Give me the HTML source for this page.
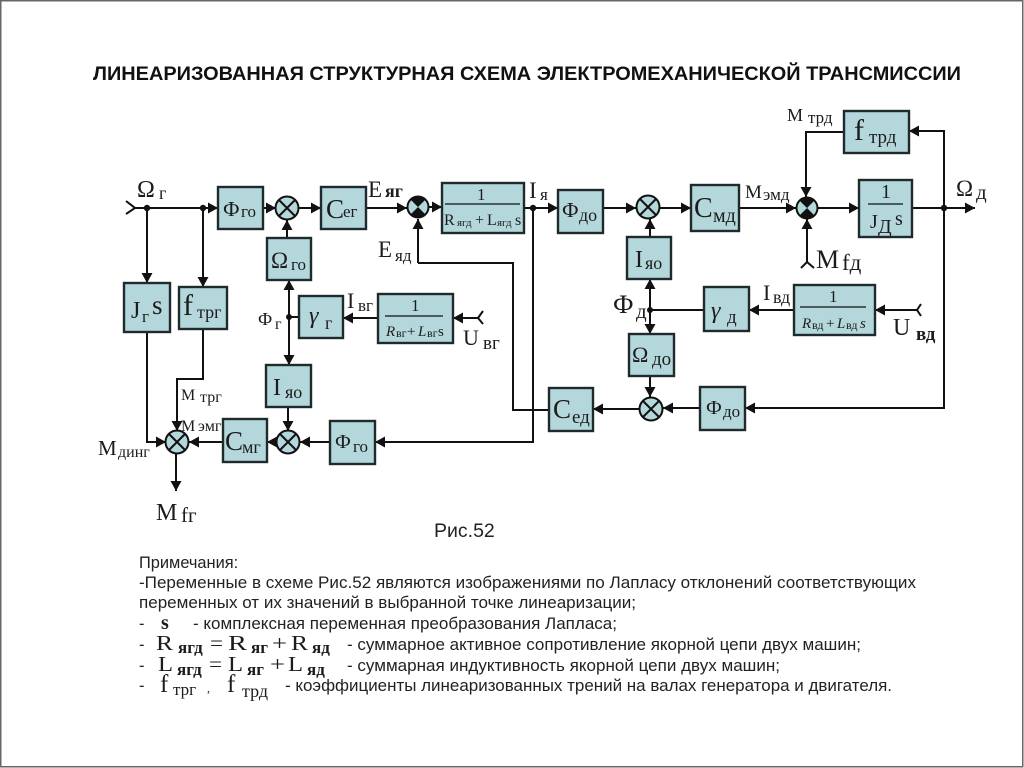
<!DOCTYPE html>
<html><head><meta charset="utf-8"><style>
html,body{margin:0;padding:0;background:#fff;width:1024px;height:768px;overflow:hidden}
svg{display:block;filter:blur(.35px)}
text{font-family:"Liberation Serif","Noto Serif CJK SC",serif;fill:#1c1c1c}
.s{font-family:"Liberation Sans","Noto Sans CJK SC",sans-serif;font-size:16.4px;fill:#222}
.b{fill:#b4d7db;stroke:#1f2a2c;stroke-width:2.4}
.l{fill:none;stroke:#111;stroke-width:2}
.c{fill:#b4d7db;stroke:#111;stroke-width:2}
.x{stroke:#111;stroke-width:2}
.k{font-weight:bold}
.i{font-style:italic}
</style></head><body>
<svg width="1024" height="768" viewBox="0 0 1024 768" xmlns="http://www.w3.org/2000/svg">
<defs>
<marker id="a" markerUnits="userSpaceOnUse" markerWidth="12" markerHeight="12" refX="10" refY="6" orient="auto"><path d="M0 0.5L10 6L0 11.5z" fill="#111"/></marker>
</defs>
<rect width="1024" height="768" fill="#fff"/>
<rect x="0.75" y="0.75" width="1022" height="766" fill="none" stroke="#666" stroke-width="1.5"/>
<text class="s" x="93" y="80" style="font-size:19px;font-weight:bold;fill:#111" textLength="868" lengthAdjust="spacingAndGlyphs">ЛИНЕАРИЗОВАННАЯ СТРУКТУРНАЯ СХЕМА ЭЛЕКТРОМЕХАНИЧЕСКОЙ ТРАНСМИССИИ</text>

<!-- connectors -->
<g class="l">
<path d="M135 208H218" marker-end="url(#a)"/>
<path d="M126 201L135 208L126 214" />
<path d="M263 208H276" marker-end="url(#a)"/>
<path d="M298 208H321" marker-end="url(#a)"/>
<path d="M366 208H407" marker-end="url(#a)"/>
<path d="M429 207H442" marker-end="url(#a)"/>
<path d="M524 208H558" marker-end="url(#a)"/>
<path d="M603 208H636" marker-end="url(#a)"/>
<path d="M660 208H691" marker-end="url(#a)"/>
<path d="M739 208H796" marker-end="url(#a)"/>
<path d="M818 208H859" marker-end="url(#a)"/>
<path d="M912 208H975" marker-end="url(#a)"/>
<path d="M147 208V283" marker-end="url(#a)"/>
<path d="M203 208V287" marker-end="url(#a)"/>
<path d="M287 238V220" marker-end="url(#a)"/>
<path d="M289 317V280" marker-end="url(#a)"/>
<path d="M289 317V365" marker-end="url(#a)"/>
<path d="M299 317H289"/>
<path d="M378 318H343" marker-end="url(#a)"/>
<path d="M479 318H453" marker-end="url(#a)"/>
<path d="M483 311L478 318L483 324"/>
<path d="M418 263V219" marker-end="url(#a)"/>
<path d="M549 410H513V263H418"/>
<path d="M533 208V442H375" marker-end="url(#a)"/>
<path d="M288 407V431" marker-end="url(#a)"/>
<path d="M330 442H300" marker-end="url(#a)"/>
<path d="M277 442H267" marker-end="url(#a)"/>
<path d="M223 442H189" marker-end="url(#a)"/>
<path d="M147 332V442H166" marker-end="url(#a)"/>
<path d="M203 329V379H177V431" marker-end="url(#a)"/>
<path d="M176 453V491" marker-end="url(#a)"/>
<path d="M650 237V219" marker-end="url(#a)"/>
<path d="M650 310V279" marker-end="url(#a)"/>
<path d="M650 310V334" marker-end="url(#a)"/>
<path d="M704 310H650"/>
<path d="M794 310H749" marker-end="url(#a)"/>
<path d="M918 310H875" marker-end="url(#a)"/>
<path d="M921 304L917 310L921 316"/>
<path d="M650 376V397" marker-end="url(#a)"/>
<path d="M700 408H663" marker-end="url(#a)"/>
<path d="M640 409H593" marker-end="url(#a)"/>
<path d="M944 208V131H909" marker-end="url(#a)"/>
<path d="M944 208V408H745" marker-end="url(#a)"/>
<path d="M844 132H806V197" marker-end="url(#a)"/>
<path d="M807 263V219" marker-end="url(#a)"/>
<path d="M801 268L807 262L814 268"/>
</g>
<g fill="#111">
<circle cx="147" cy="208" r="3.2"/><circle cx="203" cy="208" r="3.2"/><circle cx="533" cy="208" r="3.2"/><circle cx="944" cy="208" r="3.2"/><circle cx="289" cy="317" r="3"/><circle cx="650" cy="310" r="3"/>
</g>

<!-- boxes -->
<g class="b">
<rect x="218" y="187" width="45" height="42"/>
<rect x="321" y="187" width="45" height="42"/>
<rect x="442" y="183" width="82" height="50"/>
<rect x="267" y="238" width="44" height="42"/>
<rect x="299" y="296" width="44" height="42"/>
<rect x="378" y="294" width="75" height="49"/>
<rect x="124" y="283" width="46" height="49"/>
<rect x="179" y="287" width="48" height="42"/>
<rect x="266" y="365" width="45" height="42"/>
<rect x="223" y="419" width="44" height="43"/>
<rect x="330" y="421" width="45" height="43"/>
<rect x="558" y="190" width="45" height="43"/>
<rect x="691" y="185" width="48" height="46"/>
<rect x="859" y="180" width="53" height="57"/>
<rect x="844" y="111" width="65" height="42"/>
<rect x="627" y="237" width="44" height="42"/>
<rect x="704" y="287" width="45" height="44"/>
<rect x="794" y="285" width="81" height="50"/>
<rect x="629" y="334" width="45" height="42"/>
<rect x="549" y="388" width="44" height="43"/>
<rect x="700" y="387" width="45" height="43"/>
</g>

<!-- summators -->
<g>
<circle class="c" cx="287" cy="208" r="11.5"/><path class="x" d="M279 200L295 216M295 200L279 216"/>
<circle class="c" cx="648" cy="207" r="11.5"/><path class="x" d="M640 199L656 215M656 199L640 215"/>
<circle class="c" cx="288" cy="442" r="11.5"/><path class="x" d="M280 434L296 450M296 434L280 450"/>
<circle class="c" cx="177" cy="442" r="11.5"/><path class="x" d="M169 434L185 450M185 434L169 450"/>
<circle class="c" cx="651" cy="409" r="11.5"/><path class="x" d="M643 401L659 417M659 401L643 417"/>
<circle class="c" cx="418" cy="207" r="10.5"/><path fill="#111" d="M418 207L410.5 199.5A10.5 10.5 0 0 1 425.5 199.5zM418 207L410.5 214.5A10.5 10.5 0 0 0 425.5 214.5z"/>
<circle class="c" cx="807" cy="208" r="10.5"/><path fill="#111" d="M807 208L799.5 200.5A10.5 10.5 0 0 1 814.5 200.5zM807 208L799.5 215.5A10.5 10.5 0 0 0 814.5 215.5z"/>
</g>

<!-- box labels -->
<text x="223" y="216" font-size="21">Ф</text><text x="241" y="217" font-size="17">го</text>
<text x="326" y="218" font-size="27">С</text><text x="343" y="217" font-size="17">ег</text>
<text x="271" y="268" font-size="23">Ω</text><text x="291" y="270" font-size="17">го</text>
<text x="309" y="323" font-size="24" class="i">γ</text><text x="325" y="329" font-size="18">г</text>
<text x="131" y="318" font-size="24">J</text><text x="142" y="322" font-size="17">г</text><text x="152" y="314" font-size="27">s</text>
<text x="183" y="315" font-size="30">f</text><text x="197" y="318" font-size="18">трг</text>
<text x="273" y="395" font-size="24">I</text><text x="285" y="398" font-size="18">яо</text>
<text x="225" y="450" font-size="27">С</text><text x="242" y="453" font-size="18">мг</text>
<text x="335" y="448" font-size="20">Ф</text><text x="353" y="452" font-size="17">го</text>
<text x="562" y="217" font-size="21">Ф</text><text x="579" y="221" font-size="18">до</text>
<text x="694" y="217" font-size="28">С</text><text x="713" y="222" font-size="20">мд</text>
<text x="854" y="140" font-size="30">f</text><text x="869" y="143" font-size="19">трд</text>
<text x="635" y="267" font-size="24">I</text><text x="645" y="269" font-size="18">яо</text>
<text x="711" y="318" font-size="24" class="i">γ</text><text x="727" y="323" font-size="19">д</text>
<text x="632" y="362" font-size="22">Ω</text><text x="652" y="365" font-size="19">до</text>
<text x="553" y="418" font-size="27">С</text><text x="572" y="423" font-size="19">ед</text>
<text x="706" y="414" font-size="20">Ф</text><text x="723" y="417" font-size="17">до</text>

<!-- fractions -->
<g class="x" style="stroke-width:1.3"><path d="M445 204H520M385 316H443M800 307H866M868 204H903"/></g>
<text x="477" y="200" font-size="17">1</text>
<text x="444" y="225" font-size="16">R</text><text x="457" y="226" font-size="11">ягд</text><text x="475" y="225" font-size="16">+</text><text x="487" y="225" font-size="16">L</text><text x="497" y="226" font-size="11">ягд</text><text x="515" y="225" font-size="16">s</text>
<text x="411" y="311" font-size="17">1</text>
<text x="386" y="336" font-size="15" class="i">R</text><text x="396" y="337" font-size="12">вг</text><text x="407" y="336" font-size="15">+</text><text x="418" y="336" font-size="15" class="i">L</text><text x="427" y="337" font-size="12">вг</text><text x="438" y="336" font-size="15">s</text>
<text x="829" y="302" font-size="17">1</text>
<text x="802" y="328" font-size="15" class="i">R</text><text x="812" y="329" font-size="12">вд</text><text x="826" y="328" font-size="15">+</text><text x="837" y="328" font-size="15" class="i">L</text><text x="846" y="329" font-size="12">вд</text><text x="860" y="328" font-size="15" class="i">s</text>
<text x="881" y="198" font-size="20">1</text>
<text x="870" y="228" font-size="20">J</text><text x="878" y="233" font-size="20">Д</text><text x="895" y="225" font-size="20">s</text>

<!-- signal labels -->
<text x="137" y="197" font-size="24">Ω</text><text x="159" y="199" font-size="18">г</text>
<text x="368" y="197" font-size="23">E</text><text x="385" y="197" font-size="18" class="k">яг</text>
<text x="378" y="257" font-size="23">E</text><text x="395" y="261" font-size="17">яд</text>
<text x="529" y="198" font-size="23">I</text><text x="540" y="200" font-size="17">я</text>
<text x="258" y="325" font-size="18">Ф</text><text x="275" y="329" font-size="16">г</text>
<text x="347" y="308" font-size="22">I</text><text x="358" y="311" font-size="17">вг</text>
<text x="463" y="345" font-size="22">U</text><text x="483" y="349" font-size="19">вг</text>
<text x="181" y="400" font-size="16">М</text><text x="200" y="402" font-size="16">трг</text>
<text x="181" y="431" font-size="16">М</text><text x="198" y="431" font-size="16">эмг</text>
<text x="98" y="455" font-size="21">М</text><text x="118" y="457" font-size="16">динг</text>
<text x="156" y="520" font-size="24">М</text><text x="181" y="522" font-size="21">fг</text>
<text x="787" y="121" font-size="18">М</text><text x="808" y="123" font-size="17">трд</text>
<text x="745" y="198" font-size="19">М</text><text x="763" y="200" font-size="17">эмд</text>
<text x="816" y="268" font-size="26">М</text><text x="842" y="270" font-size="23">fд</text>
<text x="956" y="196" font-size="23">Ω</text><text x="976" y="199" font-size="21">д</text>
<text x="763" y="300" font-size="22">I</text><text x="773" y="303" font-size="18">вд</text>
<text x="613" y="313" font-size="26">Ф</text><text x="636" y="318" font-size="21">д</text>
<text x="893" y="335" font-size="24">U</text><text x="916" y="340" font-size="19" class="k">вд</text>

<!-- notes -->
<text class="s" x="434" y="537" style="font-size:19.5px">Рис.52</text>
<text class="s" x="139" y="568">Примечания:</text>
<text class="s" x="139" y="588" textLength="777" lengthAdjust="spacingAndGlyphs">-Переменные в схеме Рис.52 являются изображениями по Лапласу отклонений соответствующих</text>
<text class="s" x="139" y="608" textLength="497" lengthAdjust="spacingAndGlyphs">переменных от их значений в выбранной точке линеаризации;</text>
<text class="s" x="139" y="629">-</text>
<text x="161" y="629" font-size="20" class="k">s</text>
<text class="s" x="193" y="629" textLength="424" lengthAdjust="spacingAndGlyphs">- комплексная переменная преобразования Лапласа;</text>
<text class="s" x="139" y="650">-</text>
<g font-size="21"><text x="156" y="650" textLength="17" lengthAdjust="spacingAndGlyphs">R</text><text x="210" y="650" textLength="13" lengthAdjust="spacingAndGlyphs">=</text><text x="228" y="650" textLength="19" lengthAdjust="spacingAndGlyphs">R</text><text x="272" y="650" textLength="15" lengthAdjust="spacingAndGlyphs">+</text><text x="291" y="650" textLength="17" lengthAdjust="spacingAndGlyphs">R</text></g>
<g font-size="17" class="k"><text x="178" y="653">ягд</text><text x="251" y="653">яг</text><text x="312" y="653">яд</text></g>
<text class="s" x="347" y="650" textLength="514" lengthAdjust="spacingAndGlyphs">- суммарное активное сопротивление якорной цепи двух машин;</text>
<text class="s" x="139" y="671">-</text>
<g font-size="21"><text x="158" y="671" textLength="15" lengthAdjust="spacingAndGlyphs">L</text><text x="209" y="671" textLength="13" lengthAdjust="spacingAndGlyphs">=</text><text x="228" y="671" textLength="15" lengthAdjust="spacingAndGlyphs">L</text><text x="270" y="671" textLength="15" lengthAdjust="spacingAndGlyphs">+</text><text x="288" y="671" textLength="15" lengthAdjust="spacingAndGlyphs">L</text></g>
<g font-size="17" class="k"><text x="177" y="675">ягд</text><text x="247" y="675">яг</text><text x="307" y="675">яд</text></g>
<text class="s" x="347" y="671" textLength="433" lengthAdjust="spacingAndGlyphs">- суммарная индуктивность якорной цепи двух машин;</text>
<text class="s" x="139" y="691">-</text>
<text x="160" y="692" font-size="25">f</text><text x="173" y="695" font-size="17">трг</text>
<text x="207" y="692" font-size="12">,</text>
<text x="227" y="692" font-size="25">f</text><text x="242" y="697" font-size="18">трд</text>
<text class="s" x="285" y="691" textLength="607" lengthAdjust="spacingAndGlyphs">- коэффициенты линеаризованных трений на валах генератора и двигателя.</text>
</svg>
</body></html>
